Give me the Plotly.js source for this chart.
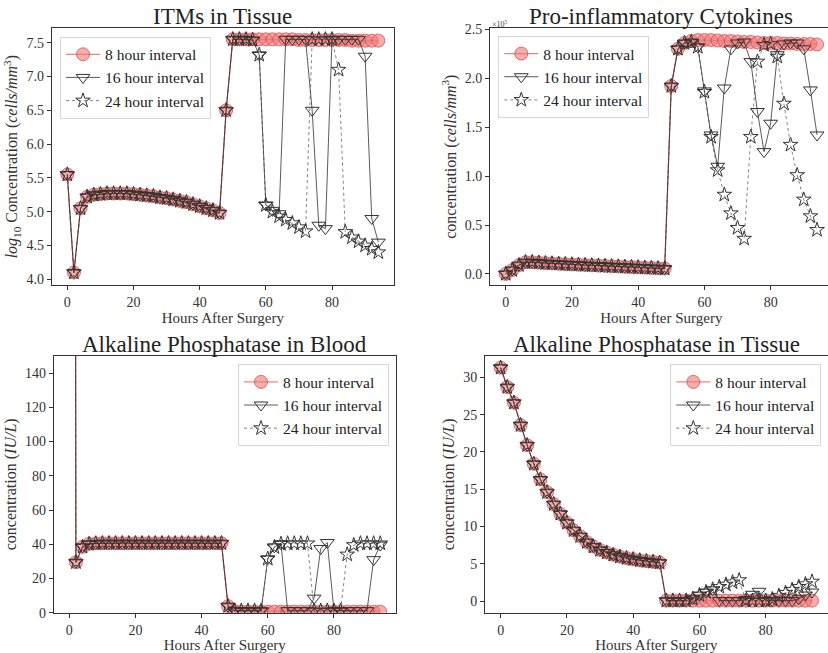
<!DOCTYPE html>
<html>
<head>
<meta charset="utf-8">
<script src="https://cdn.plot.ly/plotly-3.0.1.min.js"></script>
<style>
html,body{margin:0;padding:0;overflow:hidden;background:#fff;}
#chart{width:836px;height:653px;}
</style>
</head>
<body>
<div id="chart"></div>
<script>
// ---------------- DATA ----------------
const hours = [0,2,4,6,8,10,12,14,16,18,20,22,24,26,28,30,32,34,36,38,40,42,44,46,
               48,50,52,54,56,58,60,62,64,66,68,70,72,74,76,78,80,82,84,86,88,90,92,94];
const seriesNames = ["8 hour interval", "16 hour interval", "24 hour interval"];
const panelTitles = ["ITMs in Tissue", "Pro-inflammatory Cytokines",
                     "Alkaline Phosphatase in Blood", "Alkaline Phosphatase in Tissue"];
const xTicks = [0, 20, 40, 60, 80];

// ITMs in tissue (log10 cells/mm^3), hours 0..48 identical for all intervals
const itmsBase = [5.55,4.10,5.05,5.22,5.25,5.26,5.27,5.27,5.27,5.27,5.26,5.25,5.24,5.23,5.21,
                  5.20,5.18,5.16,5.14,5.11,5.08,5.05,5.02,4.98,6.50];
const itms8Tail  = [7.55,7.55,7.55,7.55,7.55,7.55,7.55,7.55,7.55,7.55,7.54,7.54,7.54,7.54,7.54,
                    7.54,7.54,7.54,7.53,7.53,7.53,7.53,7.53];
const itms16Tail = [7.55,7.55,7.55,7.54,7.32,5.10,5.02,4.97,7.55,7.55,7.55,7.55,6.50,4.80,4.75,
                    7.55,7.55,7.55,7.55,7.55,7.30,4.90,4.55];
const itms24Tail = [7.55,7.55,7.55,7.54,7.32,5.10,5.00,4.93,4.88,4.83,4.77,4.71,7.55,7.55,7.55,
                    7.55,7.10,4.70,4.62,4.56,4.50,4.45,4.40];

// Pro-inflammatory cytokines (x10^5 cells/mm^3)
const proBase = [0.00,0.04,0.09,0.12,0.12,0.115,0.11,0.107,0.104,0.10,0.097,0.094,0.091,0.088,
                 0.085,0.082,0.079,0.076,0.073,0.070,0.067,0.064,0.061,0.058,0.055];
const pro8Tail  = [1.92,2.30,2.36,2.38,2.39,2.39,2.39,2.385,2.38,2.38,2.375,2.37,2.37,2.365,2.36,
                   2.36,2.36,2.355,2.355,2.35,2.35,2.35,2.345];
const pro16Tail = [1.92,2.30,2.36,2.37,2.32,1.87,1.42,1.10,1.90,2.30,2.36,2.37,2.17,1.66,1.25,
                   1.54,2.24,2.35,2.36,2.36,2.30,1.88,1.42];
const pro24Tail = [1.92,2.30,2.36,2.37,2.32,1.86,1.40,1.06,0.81,0.62,0.47,0.36,1.40,2.17,2.34,
                   2.35,2.22,1.74,1.32,1.01,0.76,0.59,0.45];

// Alkaline phosphatase in blood (IU/L); first value is far above the axis
const bloodBase = [3000,29.5,38.5,40.2,40.5,40.6,40.6,40.6,40.6,40.6,40.6,40.6,40.6,40.6,40.6,
                   40.6,40.6,40.6,40.6,40.6,40.6,40.6,40.6,40.6,3.8];
const blood8Tail  = [0.8,0.6,0.6,0.6,0.6,0.6,0.6,0.6,0.6,0.6,0.6,0.6,0.6,0.6,0.6,
                     0.6,0.6,0.6,0.6,0.6,0.6,0.6,0.6];
const blood16Tail = [1.2,1.2,1.2,1.2,1.2,31.5,38.5,40.3,1.2,1.2,1.2,1.2,8.5,37.5,41.0,
                     1.2,1.2,1.2,1.2,1.2,1.2,31.0,39.5];
const blood24Tail = [1.2,1.2,1.2,1.2,1.2,31.5,38.3,40.2,40.5,40.5,40.5,40.5,1.2,1.2,1.2,
                     1.2,1.2,34.0,39.5,40.5,40.5,40.5,40.5];

// Alkaline phosphatase in tissue (IU/L)
const tissueBase = [31.3,28.7,26.6,23.6,20.9,18.4,16.3,14.6,13.0,11.7,10.5,9.5,8.7,7.9,7.3,
                    6.85,6.5,6.2,5.95,5.75,5.6,5.45,5.35,5.25,5.15];
const tissue8Tail  = [0.05,0.05,0.05,0.05,0.05,0.05,0.05,0.05,0.05,0.05,0.05,0.05,0.05,0.05,0.05,
                      0.05,0.05,0.05,0.05,0.05,0.05,0.05,0.05];
const tissue16Tail = [0.05,0.05,0.05,0.05,0.3,0.8,1.2,1.5,0.05,0.05,0.05,0.05,0.2,0.9,1.3,
                      0.05,0.05,0.05,0.05,0.05,0.3,0.8,1.2];
const tissue24Tail = [0.05,0.05,0.05,0.05,0.3,0.8,1.2,1.55,1.9,2.2,2.5,2.8,0.05,0.05,0.05,
                      0.05,0.25,0.7,1.1,1.5,1.9,2.25,2.6];

// ---------------- BUILD ----------------
const W = 836, H = 653;
const FONT = "Liberation Serif, Times New Roman, serif";
const px = v => v / W;
const py = v => 1 - v / H;

const panels = [
  {base: itmsBase,   tails: [itms8Tail, itms16Tail, itms24Tail]},
  {base: proBase,    tails: [pro8Tail, pro16Tail, pro24Tail]},
  {base: bloodBase,  tails: [blood8Tail, blood16Tail, blood24Tail]},
  {base: tissueBase, tails: [tissue8Tail, tissue16Tail, tissue24Tail]}
];

const styles = [
  {mode: 'lines+markers',
   line: {color: 'rgba(232,110,110,0.85)', width: 1.3},
   marker: {symbol: 'circle', size: 13, color: 'rgba(236,120,120,0.6)',
            line: {color: 'rgba(220,70,70,0.75)', width: 1}}},
  {mode: 'lines+markers',
   line: {color: 'rgba(40,40,40,0.85)', width: 0.9},
   marker: {symbol: 'triangle-down-open', size: 12, color: '#333',
            line: {color: '#333', width: 1}}},
  {mode: 'lines+markers',
   line: {color: 'rgba(60,60,60,0.8)', width: 0.8, dash: 'dot'},
   marker: {symbol: 'star-open', size: 11, color: '#333',
            line: {color: '#333', width: 1}}}
];

const legendIds = ['legend', 'legend2', 'legend3', 'legend4'];
const traces = [];
panels.forEach((p, i) => {
  const ax = i === 0 ? '' : String(i + 1);
  p.tails.forEach((tail, j) => {
    traces.push(Object.assign({
      type: 'scatter',
      x: hours,
      y: p.base.concat(tail),
      name: seriesNames[j],
      xaxis: 'x' + ax, yaxis: 'y' + ax,
      legend: legendIds[i],
      cliponaxis: true,
      hoverinfo: 'skip'
    }, JSON.parse(JSON.stringify(styles[j]))));
  });
});

function xa(anchor, l, r) {
  return {
    anchor: anchor,
    domain: [px(l), px(r)], range: [-4.7, 98.7],
    tickvals: xTicks, ticks: 'outside', ticklen: 4, tickwidth: 1, tickcolor: '#333',
    showline: true, mirror: true, linecolor: '#333', linewidth: 1,
    showgrid: false, zeroline: false,
    tickfont: {family: FONT, size: 14, color: '#333'},
    title: {text: 'Hours After Surgery', font: {family: FONT, size: 15, color: '#333'}, standoff: 1},
    automargin: false
  };
}
function ya(anchor, t, b, range, tickvals, fmt, title, standoff) {
  return {
    anchor: anchor,
    domain: [py(b), py(t)], range: range,
    tickvals: tickvals, tickformat: fmt, ticks: 'outside', ticklen: 4, tickwidth: 1, tickcolor: '#333',
    showline: true, mirror: true, linecolor: '#333', linewidth: 1,
    showgrid: false, zeroline: false,
    tickfont: {family: FONT, size: 14, color: '#333'},
    title: {text: title, font: {family: FONT, size: 16, color: '#333'}, standoff: standoff},
    automargin: false
  };
}

function leg(x, y, xanchor) {
  return {
    x: x, y: y, xanchor: xanchor, yanchor: 'top', xref: 'paper', yref: 'paper',
    bgcolor: 'rgba(255,255,255,0.85)', bordercolor: '#d6d6d6', borderwidth: 1,
    font: {family: FONT, size: 15.5, color: '#222'},
    tracegroupgap: 0, itemwidth: 34
  };
}

const layout = {
  width: W, height: H,
  margin: {l: 0, r: 0, t: 0, b: 0},
  paper_bgcolor: '#fff', plot_bgcolor: '#fff',
  showlegend: true,
  xaxis:  xa('y', 51.75, 393.9),
  yaxis:  ya('x', 28.3, 285, [3.916, 7.713], [4.0,4.5,5.0,5.5,6.0,6.5,7.0,7.5], '.1f',
             '<i>log</i><sub>10</sub> Concentration (<i>cells/mm</i><sup>3</sup>)', 4),
  xaxis2: xa('y2', 490.1, 832.6),
  yaxis2: ya('x2', 28.3, 285, [-0.113, 2.51], [0.0,0.5,1.0,1.5,2.0,2.5], '.1f',
             'concentration (<i>cells/mm</i><sup>3</sup>)', 4),
  xaxis3: xa('y3', 53.75, 395.8),
  yaxis3: ya('x3', 356, 612.7, [0, 150], [0,20,40,60,80,100,120,140], '',
             'concentration (<i>IU/L</i>)', 4),
  xaxis4: xa('y4', 485.1, 827.6),
  yaxis4: ya('x4', 356, 612.7, [-1.57, 32.87], [0,5,10,15,20,25,30], '',
             'concentration (<i>IU/L</i>)', 4),
  legend:  leg(px(60), py(36.7), 'left'),
  legend2: leg(px(498.3), py(36), 'left'),
  legend3: leg(px(389), py(364.3), 'right'),
  legend4: leg(px(821.3), py(364.3), 'right'),
  annotations: [
    {text: panelTitles[0], x: px(222.8), y: py(16.5), xref: 'paper', yref: 'paper',
     xanchor: 'center', yanchor: 'middle', showarrow: false, font: {family: FONT, size: 23, color: '#222'}},
    {text: panelTitles[1], x: px(661.4), y: py(16.5), xref: 'paper', yref: 'paper',
     xanchor: 'center', yanchor: 'middle', showarrow: false, font: {family: FONT, size: 23, color: '#222'}},
    {text: panelTitles[2], x: px(224.8), y: py(344), xref: 'paper', yref: 'paper',
     xanchor: 'center', yanchor: 'middle', showarrow: false, font: {family: FONT, size: 23, color: '#222'}},
    {text: panelTitles[3], x: px(656.4), y: py(344), xref: 'paper', yref: 'paper',
     xanchor: 'center', yanchor: 'middle', showarrow: false, font: {family: FONT, size: 23, color: '#222'}},
    {text: '×10<sup>5</sup>', x: px(490), y: py(24), xref: 'paper', yref: 'paper',
     xanchor: 'left', yanchor: 'middle', showarrow: false, font: {family: FONT, size: 8, color: '#444'}}
  ]
};

Plotly.newPlot('chart', traces, layout, {staticPlot: true, displayModeBar: false});
</script>
</body>
</html>
